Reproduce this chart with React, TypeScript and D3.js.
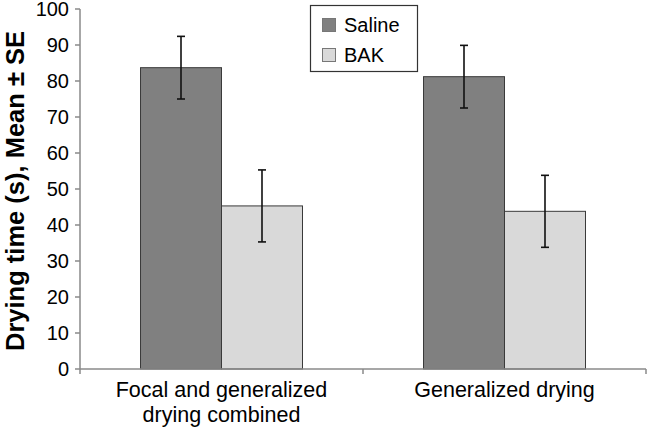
import React from "react";
import * as d3 from "d3";

const categories = ["Focal and generalized\ndrying combined", "Generalized drying"];
const seriesNames = ["Saline", "BAK"];
const salineMeans = [83.7, 81.2];
const salineSE = [8.7, 8.7];
const bakMeans = [45.3, 43.8];
const bakSE = [10.0, 10.0];
const yTicks = [0, 10, 20, 30, 40, 50, 60, 70, 80, 90, 100];
const yTitle = "Drying time (s), Mean ± SE";

const W = 648;
const H = 428;
const colors = ["#808080", "#d9d9d9"];
const FONT = "'Liberation Sans', Arial, sans-serif";

export default function App() {
  const y = d3.scaleLinear().domain([0, 100]).range([369, 9]);
  const x0 = d3.scaleBand<string>().domain(categories).range([80, 646]).paddingInner(0).paddingOuter(0);
  const x1 = d3
    .scaleBand<string>()
    .domain(seriesNames)
    .range([0, x0.bandwidth()])
    .paddingInner(0)
    .paddingOuter(0.747);

  const series = [
    { name: "Saline", means: salineMeans, se: salineSE },
    { name: "BAK", means: bakMeans, se: bakSE },
  ];

  const xTickPositions = [80, ...categories.map((c) => (x0(c) as number) + x0.bandwidth())];

  return (
    <svg width={W} height={H} style={{ position: "absolute", left: 0, top: 0, background: "#fff" }} fontFamily={FONT}>
      {/* bars */}
      {series.map((s, si) =>
        categories.map((c, ci) => {
          const bx = (x0(c) as number) + (x1(s.name) as number);
          const by = y(s.means[ci]);
          return (
            <rect
              key={`b-${si}-${ci}`}
              x={bx}
              y={by}
              width={x1.bandwidth()}
              height={y(0) - by}
              fill={colors[si]}
              stroke="#3a3a3a"
              strokeWidth={1}
            />
          );
        })
      )}
      {/* error bars */}
      {series.map((s, si) =>
        categories.map((c, ci) => {
          const cx = (x0(c) as number) + (x1(s.name) as number) + x1.bandwidth() / 2;
          const top = y(s.means[ci] + s.se[ci]);
          const bot = y(s.means[ci] - s.se[ci]);
          return (
            <g key={`e-${si}-${ci}`} stroke="#111" strokeWidth={1.6}>
              <line x1={cx} x2={cx} y1={top} y2={bot} />
              <line x1={cx - 4} x2={cx + 4} y1={top} y2={top} />
              <line x1={cx - 4} x2={cx + 4} y1={bot} y2={bot} />
            </g>
          );
        })
      )}
      {/* y axis */}
      <line x1={80} x2={80} y1={y(100)} y2={y(0)} stroke="#8a8a8a" strokeWidth={1.5} />
      {yTicks.map((t) => (
        <g key={`yt-${t}`}>
          <line x1={75} x2={80} y1={y(t)} y2={y(t)} stroke="#8a8a8a" strokeWidth={1.5} />
          <text x={69} y={y(t)} dy="0.35em" textAnchor="end" fontSize={20} fill="#000">
            {t}
          </text>
        </g>
      ))}
      {/* x axis */}
      <line x1={80} x2={646} y1={y(0)} y2={y(0)} stroke="#8a8a8a" strokeWidth={1.5} />
      {xTickPositions.map((p, i) => (
        <line key={`xt-${i}`} x1={p} x2={p} y1={y(0)} y2={y(0) + 5} stroke="#8a8a8a" strokeWidth={1.5} />
      ))}
      {categories.map((c) => {
        const lines = c.split("\n");
        const cx = (x0(c) as number) + x0.bandwidth() / 2;
        return (
          <text key={`xl-${c}`} x={cx} y={397} textAnchor="middle" fontSize={21.5} fill="#000">
            {lines.map((l, i) => (
              <tspan key={i} x={cx} dy={i === 0 ? 0 : 25}>
                {l}
              </tspan>
            ))}
          </text>
        );
      })}
      {/* y title */}
      <text
        transform={`translate(24, 191) rotate(-90)`}
        textAnchor="middle"
        fontSize={25.5}
        fontWeight="bold"
        fill="#000"
      >
        {yTitle}
      </text>
      {/* legend */}
      <rect x={310.5} y={5.5} width={107} height={66} fill="#fff" stroke="#333" strokeWidth={1.2} />
      {seriesNames.map((n, i) => (
        <g key={`lg-${n}`}>
          <rect x={322.5} y={18.5 + i * 30} width={13} height={13} fill={colors[i]} stroke="#777" strokeWidth={1} />
          <text x={344} y={25 + i * 30} dy="0.35em" fontSize={20} fill="#000">
            {n}
          </text>
        </g>
      ))}
    </svg>
  );
}
